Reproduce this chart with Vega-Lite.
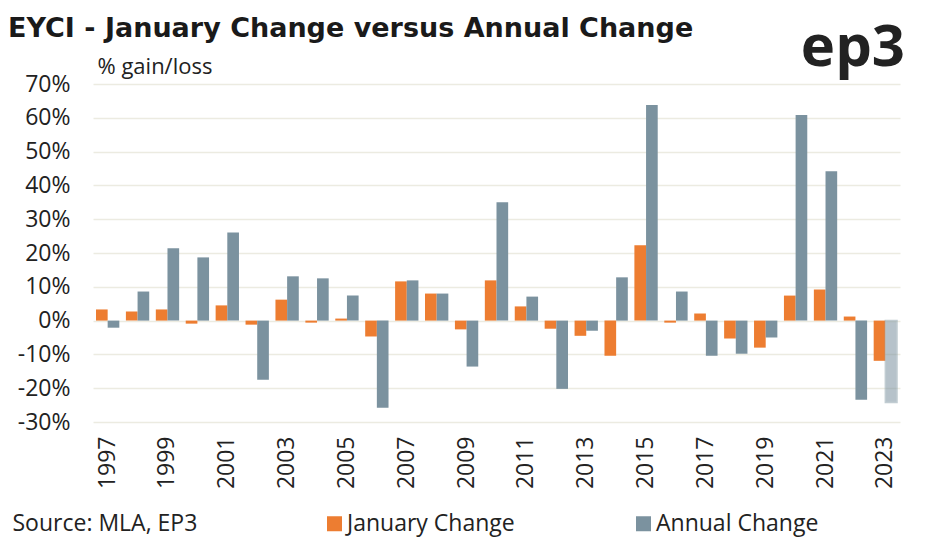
{
  "$schema": "https://vega.github.io/schema/vega-lite/v6.json",
  "width": 807,
  "height": 338,
  "autosize": "none",
  "padding": {"left": 93, "top": 84, "right": 35, "bottom": 119},
  "background": "white",
  "config": {"font": "Open Sans", "view": {"stroke": null}, "axis": {"labelOverlap": false}},
  "title": {"text": "EYCI - January Change versus Annual Change", "anchor": "start", "frame": "group", "dx": -85, "dy": 33, "fontSize": 27, "font": "DejaVu Sans", "fontWeight": "bold", "color": "#1a1a1a", "offset": 10},
  "resolve": {"axis": {"x": "independent", "y": "independent"}},
  "layer": [
    {
      "data": {"values": [
        {"year": 1997, "series": "January Change", "value": 3.3}, {"year": 1997, "series": "Annual Change", "value": -2.1},
        {"year": 1998, "series": "January Change", "value": 2.7}, {"year": 1998, "series": "Annual Change", "value": 8.6},
        {"year": 1999, "series": "January Change", "value": 3.3}, {"year": 1999, "series": "Annual Change", "value": 21.4},
        {"year": 2000, "series": "January Change", "value": -0.9}, {"year": 2000, "series": "Annual Change", "value": 18.7},
        {"year": 2001, "series": "January Change", "value": 4.5}, {"year": 2001, "series": "Annual Change", "value": 26.1},
        {"year": 2002, "series": "January Change", "value": -1.2}, {"year": 2002, "series": "Annual Change", "value": -17.5},
        {"year": 2003, "series": "January Change", "value": 6.2}, {"year": 2003, "series": "Annual Change", "value": 13.1},
        {"year": 2004, "series": "January Change", "value": -0.6}, {"year": 2004, "series": "Annual Change", "value": 12.5},
        {"year": 2005, "series": "January Change", "value": 0.6}, {"year": 2005, "series": "Annual Change", "value": 7.4},
        {"year": 2006, "series": "January Change", "value": -4.7}, {"year": 2006, "series": "Annual Change", "value": -25.8},
        {"year": 2007, "series": "January Change", "value": 11.6}, {"year": 2007, "series": "Annual Change", "value": 11.9},
        {"year": 2008, "series": "January Change", "value": 8.0}, {"year": 2008, "series": "Annual Change", "value": 8.0},
        {"year": 2009, "series": "January Change", "value": -2.6}, {"year": 2009, "series": "Annual Change", "value": -13.6},
        {"year": 2010, "series": "January Change", "value": 11.9}, {"year": 2010, "series": "Annual Change", "value": 35.0},
        {"year": 2011, "series": "January Change", "value": 4.2}, {"year": 2011, "series": "Annual Change", "value": 7.1},
        {"year": 2012, "series": "January Change", "value": -2.4}, {"year": 2012, "series": "Annual Change", "value": -20.2},
        {"year": 2013, "series": "January Change", "value": -4.5}, {"year": 2013, "series": "Annual Change", "value": -3.0},
        {"year": 2014, "series": "January Change", "value": -10.4}, {"year": 2014, "series": "Annual Change", "value": 12.8},
        {"year": 2015, "series": "January Change", "value": 22.3}, {"year": 2015, "series": "Annual Change", "value": 63.8},
        {"year": 2016, "series": "January Change", "value": -0.6}, {"year": 2016, "series": "Annual Change", "value": 8.6},
        {"year": 2017, "series": "January Change", "value": 2.1}, {"year": 2017, "series": "Annual Change", "value": -10.4},
        {"year": 2018, "series": "January Change", "value": -5.3}, {"year": 2018, "series": "Annual Change", "value": -9.8},
        {"year": 2019, "series": "January Change", "value": -8.0}, {"year": 2019, "series": "Annual Change", "value": -5.0},
        {"year": 2020, "series": "January Change", "value": 7.4}, {"year": 2020, "series": "Annual Change", "value": 60.8},
        {"year": 2021, "series": "January Change", "value": 9.2}, {"year": 2021, "series": "Annual Change", "value": 44.2},
        {"year": 2022, "series": "January Change", "value": 1.2}, {"year": 2022, "series": "Annual Change", "value": -23.4},
        {"year": 2023, "series": "January Change", "value": -11.9}, {"year": 2023, "series": "Annual Change", "value": -24.2, "partial": true}
      ]},
      "mark": {"type": "bar", "strokeWidth": 1.5},
      "encoding": {
        "x": {
          "field": "year", "type": "ordinal",
          "scale": {"paddingInner": 0.22, "paddingOuter": 0.1},
          "axis": {
            "values": [1997, 1999, 2001, 2003, 2005, 2007, 2009, 2011, 2013, 2015, 2017, 2019, 2021, 2023],
            "labelAngle": -90, "labelFontSize": 23, "labelColor": "#222", "labelPadding": 14, "labelOverlap": false,
            "ticks": false, "domain": false, "grid": false,
            "title": "Source: MLA, EP3", "titleX": -81, "titleY": 108, "titleAlign": "left", "titleBaseline": "alphabetic",
            "titleFontSize": 23, "titleFontWeight": "normal", "titleColor": "#222"
          }
        },
        "xOffset": {"field": "series", "sort": ["January Change", "Annual Change"]},
        "y": {
          "field": "value", "type": "quantitative",
          "scale": {"domain": [-30, 70]},
          "axis": {
            "values": [-30, -20, -10, 0, 10, 20, 30, 40, 50, 60, 70],
            "labelExpr": "datum.value + '%'", "labelOverlap": false,
            "labelFontSize": 23, "labelColor": "#222", "labelPadding": 23,
            "ticks": false, "domain": false, "grid": true, "gridColor": "#ecebe1", "gridWidth": 1.5,
            "title": "% gain/loss", "titleAngle": 0, "titleX": 4, "titleY": -11, "titleAlign": "left", "titleBaseline": "alphabetic",
            "titleFontSize": 22, "titleFontWeight": "normal", "titleColor": "#222"
          }
        },
        "color": {
          "field": "series", "type": "nominal",
          "scale": {"domain": ["January Change", "Annual Change"], "range": ["#ED7D31", "#7B929F"]},
          "legend": {
            "orient": "none", "legendX": 230, "legendY": 428, "direction": "horizontal", "title": null,
            "labelFontSize": 23, "labelColor": "#222", "labelLimit": 400, "symbolType": "square", "symbolSize": 225,
            "labelOffset": 1, "columnPadding": 117, "symbolStrokeWidth": 0, "symbolOpacity": 1
          }
        },
        "stroke": {"condition": {"test": "datum.partial", "value": "#8fa3ae"}, "value": null},
        "opacity": {"condition": {"test": "datum.partial", "value": 0.55}, "value": 1}
      }
    },
    {
      "data": {"values": [{"t": "ep3"}]},
      "mark": {"type": "text", "align": "right", "baseline": "alphabetic", "fontSize": 58, "fontWeight": "bold", "dx": 8, "dy": -18, "color": "#222", "letterSpacing": -1},
      "encoding": {
        "x": {"datum": 2023, "type": "ordinal", "bandPosition": 1, "axis": null},
        "y": {"datum": 70, "type": "quantitative", "axis": null},
        "text": {"field": "t"}
      }
    }
  ]
}
